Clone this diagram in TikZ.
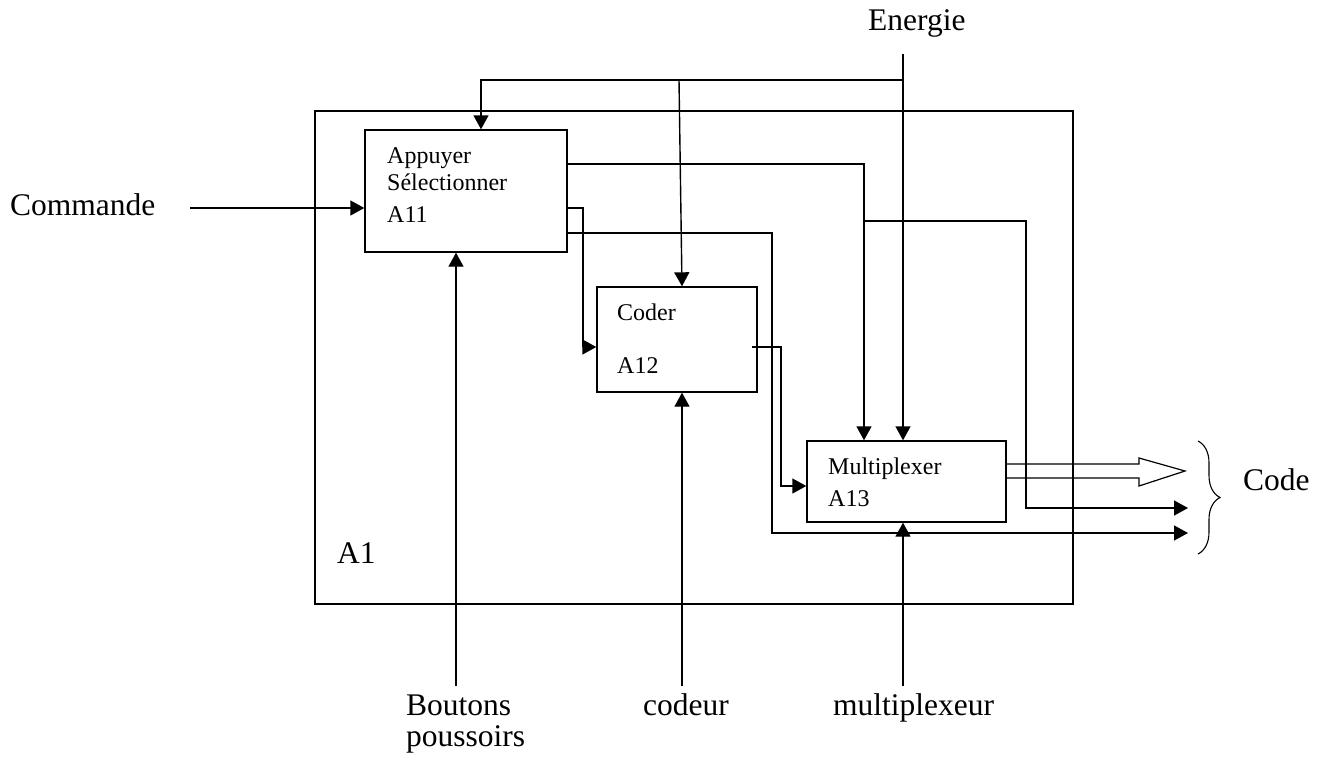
\documentclass[tikz,border=0pt]{standalone}
\usepackage{fontspec}
\setmainfont{Liberation Serif}
\usetikzlibrary{arrows.meta,decorations.pathreplacing,calc}
\begin{document}
\begin{tikzpicture}[x=1pt,y=-1pt,
  ln/.style={line width=1.4pt},
  arr/.style={ln,-{Triangle[length=14pt,width=15pt]}},
  box/.style={draw,line width=1.4pt,rectangle,inner sep=0pt},
  big/.style={font=\fontsize{31.5}{36}\selectfont,inner sep=0pt,anchor=base west},
  small/.style={font=\fontsize{24}{28}\selectfont,inner sep=0pt,anchor=base west}
]
\useasboundingbox (0,0) rectangle (1322,756);

% boxes
\node[box,minimum width=758pt,minimum height=493pt] (A1) at (694,357.5) {};
\node[box,minimum width=202pt,minimum height=122pt] (A11) at (466,191) {};
\node[box,minimum width=160pt,minimum height=105pt] (A12) at (677,339.5) {};
\node[box,minimum width=199pt,minimum height=81pt] (A13) at (906.5,481.5) {};

% texts inside boxes
\node[small] (t11a) at (387,163) {Appuyer};
\node[small] (t11b) at (387,190) {Sélectionner};
\node[small] (t11c) at (387,222) {A11};
\node[small] (t12a) at (617,320) {Coder};
\node[small] (t12b) at (617,373) {A12};
\node[small] (t13a) at (828,474) {Multiplexer};
\node[small] (t13b) at (828,506) {A13};

% outer texts
\node[big] (tA1) at (337,563) {A1};
\node[big] (tCmd) at (10,215) {Commande};
\node[big] (tEn) at (868,30) {Energie};
\node[big] (tBo) at (406,715) {Boutons};
\node[big] (tPo) at (406,746) {poussoirs};
\node[big] (tCo) at (643,715) {codeur};
\node[big] (tMu) at (833,715) {multiplexeur};
\node[big] (tCode) at (1243,490) {Code};

% free ends
\coordinate (E) at (903,54);
\coordinate (cmdS) at (190,208);
\coordinate (boS) at (456,686);
\coordinate (coS) at (682,686);
\coordinate (muS) at (903,686);
\coordinate (o2) at (1188,508);
\coordinate (o3) at (1188,533);

% energy
\draw[arr] (E) -- (A13.north -| E);
\draw[arr] (E |- 0,80) -| (A11.north -| 481,0);
\draw[arr] (679,80) -- (A12.north -| 682,0);

% command
\draw[arr] (cmdS) -- (A11.west |- cmdS);

% A11 outputs
\draw[arr] (A11.east |- 0,164) -| (A13.north -| 864,0);
\draw[arr] (864,221) -- (1026,221) -- (1026,508) -- (o2);
\draw[arr] (A11.east |- 0,208) -- (583,208) -- (583,347) -- (A12.west |- 0,347);
\draw[arr] (A11.east |- 0,233) -- (772,233) -- (772,533) -- (o3);

% Coder output
\draw[arr] (752,347) -- (781,347) -- (781,486) -- (A13.west |- 0,486);

% mechanisms
\draw[arr] (boS) -- (A11.south -| boS);
\draw[arr] (coS) -- (A12.south -| coS);
\draw[arr] (muS) -- (A13.south -| muS);

% hollow output arrow
\draw[line width=1.2pt,line join=miter] (A13.east |- 0,464) -- (1139,464) -- (1139,458) -- (1185,471) -- (1139,486) -- (1139,478) -- (A13.east |- 0,478);

% brace
\draw[line width=1.1pt,decorate,decoration={brace,amplitude=22pt,aspect=0.5}] (1198,441) -- (1198,554);
\end{tikzpicture}
\end{document}
